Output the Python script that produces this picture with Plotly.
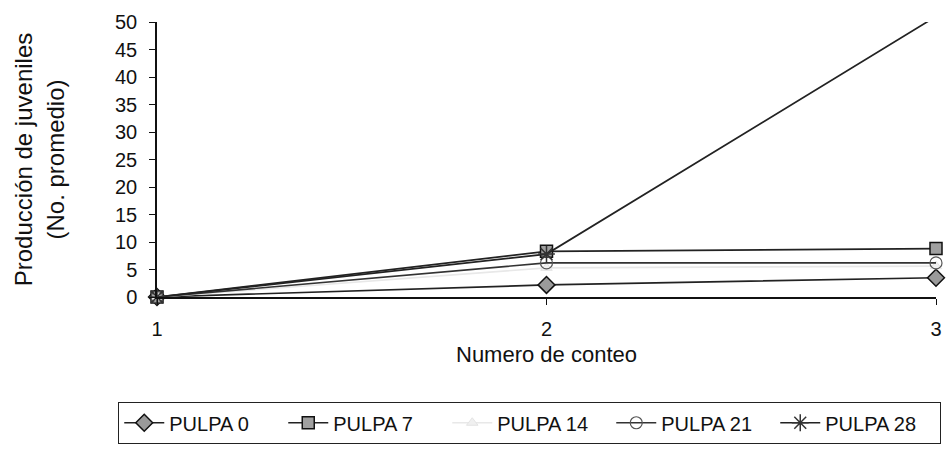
import plotly.graph_objects as go

# Conteos (eje X) y producción promedio de juveniles por tratamiento
conteos = [1, 2, 3]
pulpa_0 = [0, 2.2, 3.5]
pulpa_7 = [0, 8.3, 8.8]
pulpa_14 = [0, 5.3, 5.6]
pulpa_21 = [0, 6.2, 6.2]
pulpa_28 = [0, 7.8, 51]

y_ticks = list(range(0, 55, 5))

FONT = "Liberation Sans, Arial, sans-serif"

series = [
    ("PULPA 0", pulpa_0, "#222222", dict(symbol="diamond", size=13, color="#9a9a9a",
                                          line=dict(color="#111111", width=1.5))),
    ("PULPA 7", pulpa_7, "#222222", dict(symbol="square", size=12, color="#a0a0a0",
                                          line=dict(color="#111111", width=1.5))),
    ("PULPA 14", pulpa_14, "#e8e8e8", dict(symbol="triangle-up", size=10, color="#f0f0f0",
                                            line=dict(color="#e4e4e4", width=1))),
    ("PULPA 21", pulpa_21, "#333333", dict(symbol="circle-open", size=12, color="#555555",
                                            line=dict(color="#555555", width=1.2))),
    ("PULPA 28", pulpa_28, "#222222", dict(symbol="asterisk-open", size=14, color="#333333",
                                            line=dict(color="#333333", width=1.5))),
]

fig = go.Figure()
for name, vals, lc, mk in series:
    fig.add_trace(go.Scatter(
        x=conteos, y=vals, name=name, mode="lines+markers",
        line=dict(color=lc, width=1.7), marker=mk, cliponaxis=False,
    ))

fig.update_layout(
    width=949, height=451,
    margin=dict(l=157, r=7, t=22, b=146),
    paper_bgcolor="white", plot_bgcolor="white",
    font=dict(family=FONT, color="#111111", size=20),
    showlegend=True,
    legend=dict(
        orientation="h", x=-0.05, xanchor="left", y=-0.382, yanchor="top",
        bordercolor="#222222", borderwidth=1.2,
        font=dict(size=20, family=FONT),
        itemwidth=40, entrywidth=109, entrywidthmode="pixels",
        tracegroupgap=0,
    ),
)

fig.update_xaxes(
    range=[1, 3], tickvals=conteos, ticktext=[str(c) for c in conteos],
    showgrid=False, zeroline=False,
    showline=True, linecolor="#111111", linewidth=1.5,
    ticks="outside", ticklen=6, tickcolor="#111111",
    tickfont=dict(size=20, family=FONT), ticklabelstandoff=7,
    title=dict(text="Numero de conteo", font=dict(size=22, family=FONT), standoff=8),
)

fig.update_yaxes(
    range=[0, 50], tickvals=y_ticks,
    showgrid=False, zeroline=False,
    showline=True, linecolor="#111111", linewidth=1.5,
    ticks="outside", ticklen=6, tickcolor="#111111",
    tickfont=dict(size=20, family=FONT), ticklabelstandoff=8,
    title=dict(text="Producción de juveniles<br>(No. promedio)",
               font=dict(size=24, family=FONT), standoff=44),
)

fig.write_html("out.html")
